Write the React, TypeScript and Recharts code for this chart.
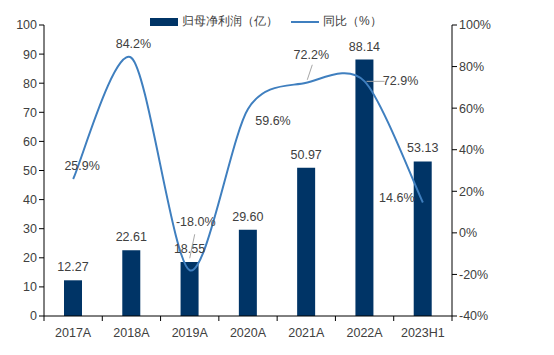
import { ComposedChart, Bar, Line, XAxis, YAxis, LabelList } from 'recharts'

const categories = ['2017A', '2018A', '2019A', '2020A', '2021A', '2022A', '2023H1']
const profit = [12.27, 22.61, 18.55, 29.6, 50.97, 88.14, 53.13]
const yoy = [25.9, 84.2, -18.0, 59.6, 72.2, 72.9, 14.6]
const leftTicks = [0, 10, 20, 30, 40, 50, 60, 70, 80, 90, 100]
const rightTicks = [-40, -20, 0, 20, 40, 60, 80, 100]

const data = categories.map((c, i) => ({ name: c, profit: profit[i], yoy: yoy[i] }))

const BAR = '#003466'
const LINE = '#3f7fbf'
const TEXT = '#404040'
const FONT = 'Liberation Sans, Arial, sans-serif'

const W = 554
const H = 355
const LEFT_W = 44
const RIGHT_W = 60
const MARGIN = { top: 25, right: 42, left: 0, bottom: 9 }
const HALF_BAND = (W - LEFT_W - RIGHT_W - MARGIN.right) / categories.length / 2
const TENSION = 1 / 7

// label placement for the yoy labels (offset from point, optional leader line)
const lineLabelPos = [
  { dx: 9, dy: -13 },
  { dx: 2, dy: -14 },
  { dx: 6, dy: -48, lead: [0, -12, 5, -36] },
  { dx: 25, dy: 12 },
  { dx: 5, dy: -28, lead: [1, -3, 6, -18] },
  { dx: 36, dy: 0, lead: [2, 0, 20, 0] },
  { dx: -26, dy: -5 },
]

// cardinal-style smoothing, close to Excel's smoothed line
const smoothCurve = (ctx: any) => {
  let pts: number[][] = []
  return {
    areaStart() {},
    areaEnd() {},
    lineStart() {
      pts = []
    },
    point(x: number, y: number) {
      pts.push([+x, +y])
    },
    lineEnd() {
      if (!pts.length) return
      ctx.moveTo(pts[0][0], pts[0][1])
      for (let i = 0; i < pts.length - 1; i++) {
        const p0 = pts[i - 1] || pts[i]
        const p1 = pts[i]
        const p2 = pts[i + 1]
        const p3 = pts[i + 2] || p2
        ctx.bezierCurveTo(
          p1[0] + (p2[0] - p0[0]) * TENSION,
          p1[1] + (p2[1] - p0[1]) * TENSION,
          p2[0] - (p3[0] - p1[0]) * TENSION,
          p2[1] - (p3[1] - p1[1]) * TENSION,
          p2[0],
          p2[1]
        )
      }
    },
  }
}

const XTick = (props: any) => {
  const { x, y, payload, index } = props
  const last = index === categories.length - 1
  return (
    <g>
      <line x1={x - HALF_BAND} y1={y - 8} x2={x - HALF_BAND} y2={y - 3} stroke="#000" />
      {last && <line x1={x + HALF_BAND} y1={y - 8} x2={x + HALF_BAND} y2={y - 3} stroke="#000" />}
      <text x={x} y={y + 13} textAnchor="middle" fill={TEXT} fontSize={12.5} fontFamily={FONT}>
        {payload.value}
      </text>
    </g>
  )
}

const YoyLabel = (props: any) => {
  const { x, y, index, value } = props
  const p = lineLabelPos[index]
  return (
    <g>
      {p.lead && (
        <line
          x1={x + p.lead[0]}
          y1={y + p.lead[1]}
          x2={x + p.lead[2]}
          y2={y + p.lead[3]}
          stroke="#a6a6a6"
          strokeWidth={1}
        />
      )}
      <text
        x={x + p.dx}
        y={y + p.dy}
        textAnchor="middle"
        dominantBaseline="central"
        fill={TEXT}
        fontSize={12.5}
        fontFamily={FONT}
      >
        {value.toFixed(1)}%
      </text>
    </g>
  )
}

export default function App() {
  return (
    <div style={{ position: 'absolute', left: 0, top: 0, width: W, height: H, background: '#fff' }}>
      <div
        style={{
          position: 'absolute',
          top: 13,
          left: 150,
          display: 'flex',
          alignItems: 'center',
          fontFamily: FONT,
          fontSize: 12,
          color: TEXT,
          whiteSpace: 'nowrap',
        }}
      >
        <span style={{ display: 'inline-block', width: 28, height: 8, background: BAR, marginRight: 4 }} />
        <span>归母净利润（亿）</span>
        <span style={{ display: 'inline-block', width: 28, height: 2, background: LINE, margin: '0 4px 0 13px' }} />
        <span>同比（%）</span>
      </div>
      <ComposedChart width={W} height={H} data={data} margin={MARGIN}>
        <XAxis
          dataKey="name"
          axisLine={{ stroke: '#000' }}
          tickLine={false}
          tick={<XTick />}
          height={30}
          interval={0}
        />
        <YAxis
          yAxisId="l"
          domain={[0, 100]}
          ticks={leftTicks}
          width={LEFT_W}
          axisLine={{ stroke: '#000' }}
          tickLine={{ stroke: '#000' }}
          tickSize={5}
          tick={{ fill: TEXT, fontSize: 12.5, fontFamily: FONT }}
          interval={0}
        />
        <YAxis
          yAxisId="r"
          orientation="right"
          domain={[-40, 100]}
          ticks={rightTicks}
          width={RIGHT_W}
          axisLine={{ stroke: '#000' }}
          tickLine={{ stroke: '#000' }}
          tickSize={5}
          tickFormatter={(v: number) => `${v}%`}
          tick={{ fill: TEXT, fontSize: 12.5, fontFamily: FONT }}
          interval={0}
        />
        <Bar yAxisId="l" dataKey="profit" fill={BAR} barSize={18} isAnimationActive={false}>
          <LabelList
            dataKey="profit"
            position="top"
            offset={9}
            formatter={(v: number) => v.toFixed(2)}
            style={{ fill: TEXT, fontSize: 12.5, fontFamily: FONT }}
          />
        </Bar>
        <Line
          yAxisId="r"
          dataKey="yoy"
          type={smoothCurve as any}
          stroke={LINE}
          strokeWidth={2}
          dot={false}
          isAnimationActive={false}
        >
          <LabelList dataKey="yoy" content={<YoyLabel />} />
        </Line>
      </ComposedChart>
    </div>
  )
}
